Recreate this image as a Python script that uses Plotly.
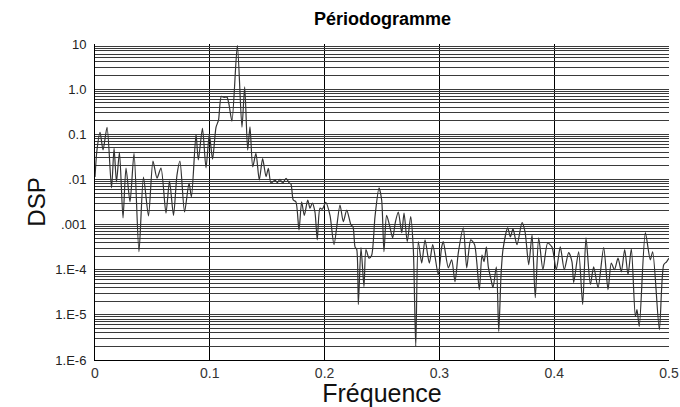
import plotly.graph_objects as go

# Periodogram estimate: frequency (cycles per sample) and power spectral density
frequence = [
    0.0, 0.0017, 0.0044, 0.0070, 0.0105, 0.0144, 0.0166, 0.0187, 0.0213, 0.0244,
    0.0270, 0.0305, 0.0340, 0.0383, 0.0422, 0.0466, 0.0505, 0.0540, 0.0575, 0.0618,
    0.0649, 0.0684, 0.0714, 0.0740, 0.0780, 0.0819, 0.0840, 0.0880, 0.0900, 0.0936,
    0.0967, 0.0996, 0.1024, 0.1054, 0.1076, 0.1100, 0.1124, 0.1150, 0.1167, 0.1193,
    0.1240, 0.1280, 0.1304, 0.1330, 0.1350, 0.1374, 0.1402, 0.1431, 0.1460, 0.1490,
    0.1510, 0.1533, 0.1568, 0.1588, 0.1611, 0.1635, 0.1664, 0.1690, 0.1707, 0.1727,
    0.1750, 0.1777, 0.1800, 0.1823, 0.1853, 0.1873, 0.1893, 0.1916, 0.1936, 0.1960,
    0.1980, 0.2010, 0.2047, 0.2082, 0.2134, 0.2163, 0.2193, 0.2230, 0.2247, 0.2265,
    0.2280, 0.2294, 0.2317, 0.2343, 0.2360, 0.2387, 0.2410, 0.2439, 0.2474, 0.2497,
    0.2517, 0.2540, 0.2565, 0.2593, 0.2617, 0.2642, 0.2672, 0.2692, 0.2720, 0.2750,
    0.2773, 0.2794, 0.2816, 0.2846, 0.2875, 0.2912, 0.2942, 0.2990, 0.3020, 0.3034,
    0.3078, 0.3107, 0.3136, 0.3165, 0.3208, 0.3238, 0.3273, 0.3306, 0.3348, 0.3371,
    0.3389, 0.3409, 0.3426, 0.3450, 0.3467, 0.3496, 0.3517, 0.3537, 0.3554, 0.3595,
    0.3618, 0.3641, 0.3676, 0.3720, 0.3746, 0.3778, 0.3807, 0.3835, 0.3865, 0.3902,
    0.3943, 0.3980, 0.4018, 0.4053, 0.4088, 0.4126, 0.4155, 0.4170, 0.4213, 0.4248,
    0.4277, 0.4315, 0.4344, 0.4382, 0.4431, 0.4469, 0.4497, 0.4525, 0.4556, 0.4585,
    0.4614, 0.4643, 0.4672, 0.4707, 0.4721, 0.4741, 0.4794, 0.4837, 0.4858, 0.4916,
    0.4954, 0.4979, 0.5000,
]
dsp = [
    0.0113, 0.0446, 0.111, 0.045, 0.143, 0.0065, 0.049, 0.0088, 0.040, 0.0014,
    0.0179, 0.0032, 0.038, 0.00025, 0.0113, 0.00156, 0.0255, 0.0107, 0.0179, 0.0018,
    0.0092, 0.0016, 0.0125, 0.0255, 0.0019, 0.0083, 0.0041, 0.10, 0.027, 0.136,
    0.018, 0.10, 0.028, 0.143, 0.205, 0.69, 0.66, 0.66, 0.46, 0.195,
    9.3, 0.143, 1.12, 0.0446, 0.146, 0.019, 0.0377, 0.0097, 0.029, 0.0115,
    0.0176, 0.0083, 0.0097, 0.0085, 0.0100, 0.0083, 0.0106, 0.0085, 0.0079, 0.0035,
    0.0032, 0.00076, 0.0032, 0.0016, 0.0035, 0.0023, 0.0030, 0.0019, 0.00046, 0.0023,
    0.0022, 0.0031, 0.0016, 0.00036, 0.0027, 0.00116, 0.0021, 0.00098, 0.00090, 0.00032,
    0.00028, 1.7e-5, 0.00031, 4.2e-5, 0.00028, 0.00018, 0.00021, 0.0015, 0.0065, 0.0035,
    0.00025, 0.0016, 0.00098, 0.00051, 0.00115, 0.0019, 0.00066, 0.0018, 0.00042, 0.0015,
    0.00028, 2.0e-6, 0.00042, 0.00014, 0.00046, 0.00014, 0.00036, 7.8e-5, 0.00032, 0.00042,
    0.00011, 0.000166, 5.4e-5, 0.00024, 0.00085, 0.00011, 0.00046, 0.00036, 3.6e-5, 0.00021,
    0.00015, 0.00032, 0.000116, 6.0e-5, 4.0e-5, 0.000116, 4.3e-6, 7.8e-5, 0.00028, 0.00085,
    0.00053, 0.00080, 0.00036, 0.0011, 0.00069, 0.000129, 0.00059, 2.4e-5, 0.00051, 0.0001,
    0.00039, 0.00032, 0.0001, 0.00032, 0.0001, 0.00024, 0.00015, 5.2e-5, 0.00025, 1.7e-5,
    0.00051, 4.7e-5, 0.000116, 4.0e-5, 0.00031, 3.6e-5, 0.00014, 0.0001, 0.00018, 9.0e-5,
    0.00028, 7.8e-5, 0.00029, 9.2e-6, 1.3e-5, 5.5e-6, 0.00066, 0.000166, 0.00025, 4.7e-6,
    0.000129, 0.00015, 0.00018,
]

# Axis ticks
x_ticks = [0, 0.1, 0.2, 0.3, 0.4, 0.5]
x_labels = ["0", "0.1", "0.2", "0.3", "0.4", "0.5"]
decades = [-6, -5, -4, -3, -2, -1, 0, 1]
decade_labels = ["1.E-6", "1.E-5", "1.E-4", ".001", ".01", "0.1", "1.0", "10"]

# Log grid: a line at every 1..9 multiple of each decade, labels on decades only
y_vals, y_text = [], []
for e, lab in zip(decades, decade_labels):
    for k in range(1, 10):
        if e == 1 and k > 1:
            break
        y_vals.append(k * 10.0 ** e)
        y_text.append(lab if k == 1 else "")

font = "Liberation Sans, Arial, sans-serif"

fig = go.Figure(
    go.Scatter(
        x=frequence, y=dsp, mode="lines",
        line=dict(color="#333333", width=1.2, shape="spline", smoothing=0.7),
        hoverinfo="x+y",
    )
)

fig.update_layout(
    width=680, height=407,
    margin=dict(l=95, r=11, t=44, b=47, autoexpand=False),
    paper_bgcolor="white", plot_bgcolor="white",
    showlegend=False,
    title=dict(
        text="<b>Périodogramme</b>", x=0.5625, xanchor="center", y=0.955, yanchor="middle",
        font=dict(family=font, size=18, color="#000000"),
    ),
    font=dict(family=font),
)

fig.update_xaxes(
    range=[0, 0.5], tickvals=x_ticks, ticktext=x_labels, automargin=False,
    showgrid=True, gridcolor="#000000", gridwidth=1,
    showline=True, linecolor="#000000", linewidth=1,
    ticks="", ticklabelstandoff=0,
    tickfont=dict(family=font, size=14, color="#333333"),
    title=dict(text="Fréquence", font=dict(family=font, size=25, color="#111111"), standoff=3),
    zeroline=False,
)
fig.update_yaxes(
    type="log", range=[-6, 1], tickvals=y_vals, ticktext=y_text, automargin=False,
    showgrid=True, gridcolor="#3a3a3a", gridwidth=1,
    showline=True, linecolor="#000000", linewidth=1,
    ticks="outside", ticklen=5, tickcolor="rgba(0,0,0,0)",
    tickfont=dict(family=font, size=13, color="#222222"),
    title=dict(text="DSP", font=dict(family=font, size=24, color="#111111"), standoff=2),
    zeroline=False,
)

fig.write_html("out.html")
